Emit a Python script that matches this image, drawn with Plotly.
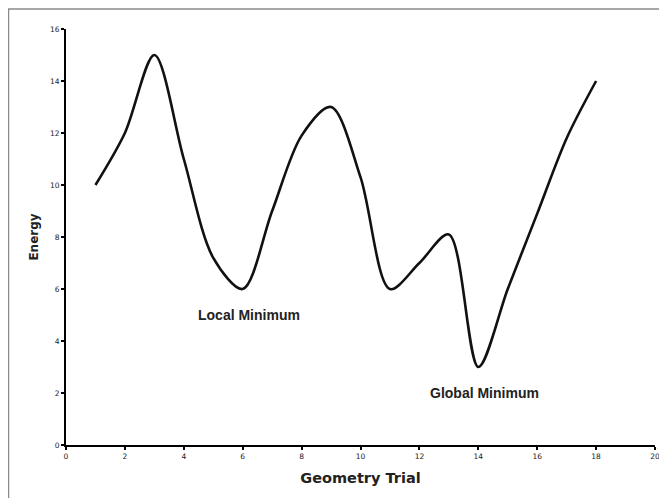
import plotly.graph_objects as go

trial = [1, 2, 3, 4, 5, 6, 7, 8, 9, 10, 11, 12, 13, 14, 15, 16, 17, 18]
energy = [10, 12, 15, 11, 7.2, 6, 9, 11.9, 13, 10.3, 6, 7, 8.1, 3, 6, 8.9, 11.8, 14]

x_ticks = list(range(0, 21, 2))
y_ticks = list(range(0, 17, 2))

labels = ["Local Minimum", "Global Minimum"]
label_x = [6.2, 14.2]
label_y = [5.0, 2.0]

# page body has an 8px margin, so the figure is sized to the visible area
W, H = 659, 490
L, R, T, B = 58, 12, 21, 53

fig = go.Figure()
fig.add_trace(go.Scatter(
    x=trial, y=energy, mode="lines",
    line=dict(color="#111111", width=2.6, shape="spline", smoothing=0.9),
    showlegend=False, hoverinfo="skip"))

for t, xx, yy in zip(labels, label_x, label_y):
    fig.add_annotation(x=xx, y=yy, text="<b>" + t + "</b>", showarrow=False,
                       font=dict(family="Liberation Sans, Arial", size=14, color="#222222"),
                       xanchor="center", yanchor="middle")

pw = W - L - R
ph = H - T - B
fig.add_shape(type="rect", xref="paper", yref="paper",
              x0=(0.5 - L) / pw, x1=(652 - L) / pw,
              y0=(H - B - 492) / ph, y1=(H - B - 1) / ph,
              line=dict(color="#8a8a8a", width=1.5), fillcolor="rgba(0,0,0,0)", layer="below")

axis_common = dict(
    showgrid=False, zeroline=False, showline=True, linecolor="black", linewidth=2,
    ticks="outside", ticklen=3, tickwidth=1.5, tickcolor="black", automargin=False,
    tickfont=dict(family="DejaVu Sans, Verdana", size=7.5, color="#222222"),
)

fig.update_layout(
    width=W, height=H,
    margin=dict(l=L, r=R, t=T, b=B),
    paper_bgcolor="white", plot_bgcolor="white",
    xaxis=dict(range=[0, 20], tickvals=x_ticks, ticktext=[str(v) for v in x_ticks],
               title=dict(text="<b>Geometry Trial</b>", standoff=13,
                          font=dict(family="DejaVu Sans, Verdana", size=14.5, color="#222222")),
               **axis_common),
    yaxis=dict(range=[0, 16], tickvals=y_ticks, ticktext=[str(v) for v in y_ticks],
               title=dict(text="<b>Energy</b>", standoff=9,
                          font=dict(family="DejaVu Sans, Verdana", size=12, color="#222222")),
               **axis_common),
)

fig.write_html("out.html")
